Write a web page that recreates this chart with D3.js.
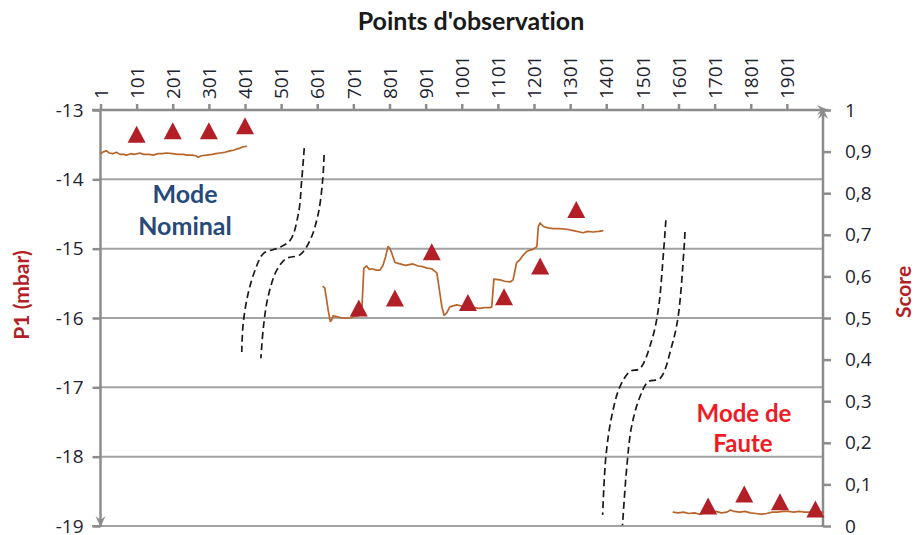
<!DOCTYPE html>
<html>
<head>
<meta charset="utf-8">
<script src="https://cdn.jsdelivr.net/npm/d3@7"></script>
<style>
  html, body { margin: 0; padding: 0; background: #fff; }
  svg { display: block; }
  text { font-variant-ligatures: none; }
</style>
</head>
<body>
<div id="chart"></div>
<script>
// ---------- DATA ----------
const obsTicks = [1, 101, 201, 301, 401, 501, 601, 701, 801, 901, 1001, 1101, 1201, 1301, 1401, 1501, 1601, 1701, 1801, 1901];
const p1Ticks = [-13, -14, -15, -16, -17, -18, -19];
const scoreTicks = [0, 0.1, 0.2, 0.3, 0.4, 0.5, 0.6, 0.7, 0.8, 0.9, 1];

// P1 (mbar) signal, [observation, value]
const p1Nominal = [[1,-13.63],[4,-13.62],[10,-13.6],[18,-13.59],[25,-13.62],[35,-13.63],[45,-13.61],[55,-13.64],[65,-13.64],[74,-13.65],[85,-13.63],[95,-13.64],[110,-13.62],[120,-13.64],[135,-13.64],[147,-13.65],[160,-13.63],[172,-13.63],[184,-13.62],[200,-13.63],[215,-13.64],[230,-13.64],[240,-13.65],[255,-13.65],[265,-13.66],[272,-13.68],[280,-13.66],[295,-13.65],[310,-13.64],[320,-13.63],[332,-13.62],[345,-13.61],[359,-13.59],[370,-13.58],[380,-13.56],[387,-13.55],[395,-13.53],[400,-13.53],[406,-13.52]];
const p1Transition = [[616,-15.54],[622,-15.57],[631,-15.88],[637,-16.05],[641,-16.03],[645,-15.97],[655,-15.98],[670,-16.0],[692,-16.0],[700,-15.98],[715,-15.97],[724,-15.93],[730,-15.28],[738,-15.25],[745,-15.3],[752,-15.29],[765,-15.31],[775,-15.31],[783,-15.24],[790,-15.12],[797,-14.97],[802,-15.0],[807,-15.06],[816,-15.2],[830,-15.22],[845,-15.24],[866,-15.22],[880,-15.25],[894,-15.26],[905,-15.28],[918,-15.29],[925,-15.32],[932,-15.35],[935,-15.45],[946,-15.84],[952,-15.96],[959,-15.93],[968,-15.84],[987,-15.81],[1004,-15.83],[1020,-15.86],[1035,-15.85],[1051,-15.86],[1065,-15.85],[1079,-15.85],[1084,-15.84],[1090,-15.44],[1107,-15.45],[1120,-15.47],[1135,-15.48],[1143,-15.45],[1153,-15.2],[1162,-15.16],[1170,-15.1],[1181,-15.04],[1190,-15.02],[1198,-15.01],[1209,-14.97],[1213,-14.68],[1218,-14.63],[1227,-14.68],[1240,-14.7],[1254,-14.71],[1270,-14.71],[1292,-14.72],[1310,-14.74],[1337,-14.77],[1350,-14.75],[1364,-14.76],[1380,-14.75],[1393,-14.74]];
const p1Fault = [[1585,-18.8],[1600,-18.81],[1615,-18.8],[1630,-18.82],[1645,-18.81],[1660,-18.83],[1675,-18.81],[1690,-18.8],[1705,-18.79],[1720,-18.81],[1735,-18.8],[1745,-18.77],[1755,-18.79],[1770,-18.8],[1785,-18.79],[1800,-18.81],[1815,-18.82],[1830,-18.83],[1845,-18.82],[1860,-18.8],[1875,-18.8],[1890,-18.79],[1905,-18.79],[1920,-18.8],[1935,-18.79],[1950,-18.8],[1965,-18.8],[1980,-18.81],[1995,-18.8],[2003,-18.8]];

// Score, [observation, score]
const scoreNominal = [[101,0.942],[201,0.95],[301,0.95],[401,0.962]];
const scoreTransition = [[716,0.524],[816,0.548],[918,0.659],[1018,0.537],[1118,0.551],[1218,0.625],[1318,0.761]];
const scoreFault = [[1683,0.048],[1783,0.077],[1882,0.058],[1980,0.041]];

// Break marks (dashed S-curves), in [observation, P1] units
const breakA1 = [[565,-13.55],[558,-14.01],[549,-14.49],[526,-14.88],[493,-14.99],[452,-15.07],[429,-15.31],[410,-15.64],[396,-16.08],[392,-16.49]];
const breakA2 = [[620,-13.65],[616,-14.01],[604,-14.49],[581,-14.88],[553,-15.09],[516,-15.14],[489,-15.31],[465,-15.69],[452,-16.13],[445,-16.58]];
const breakB1 = [[1566,-14.59],[1560,-15.02],[1545,-15.88],[1527,-16.32],[1494,-16.73],[1467,-16.77],[1439,-16.99],[1416,-17.42],[1400,-18.0],[1391,-18.84]];
const breakB2 = [[1619,-14.76],[1616,-15.02],[1600,-15.98],[1582,-16.41],[1550,-16.87],[1517,-16.92],[1494,-17.14],[1471,-17.57],[1458,-18.14],[1446,-18.99]];

// ---------- CHART ----------
const W = 914, H = 535;
const svg = d3.select("#chart").append("svg").attr("width", W).attr("height", H);

const x = d3.scaleLinear().domain([1, 2001]).range([100.5, 823]);
const yL = d3.scaleLinear().domain([-19, -13]).range([526, 110]);
const yR = d3.scaleLinear().domain([0, 1]).range([526, 110]);

const axisCol = "#8c8c8c", gridCol = "#a3a3a3", txtCol = "#1e2330";
const lineCol = "#b8652b", markCol = "#b31f26";
const FONT = "Lato, 'Open Sans', sans-serif";
const TFONT = "'Open Sans', Lato, sans-serif";

const defs = svg.append("defs");
defs.append("marker").attr("id", "arr").attr("viewBox", "-12 -6 14 12")
  .attr("refX", 0).attr("refY", 0).attr("markerWidth", 14).attr("markerHeight", 12)
  .attr("markerUnits", "userSpaceOnUse").attr("orient", "auto")
  .append("path").attr("d", "M0,0 L-11,-5 L-7,0 L-11,5 Z").attr("fill", axisCol);

// gridlines
svg.append("g").selectAll("line").data(p1Ticks.filter(d => d !== -13)).join("line")
  .attr("x1", d => d === -19 ? 92 : x.range()[0]).attr("x2", x.range()[1])
  .attr("y1", d => yL(d)).attr("y2", d => yL(d))
  .attr("stroke", gridCol).attr("stroke-width", 2);

// left axis
const gL = svg.append("g").attr("transform", `translate(${x.range()[0]},0)`)
  .call(d3.axisLeft(yL).tickValues(p1Ticks).tickSize(8).tickPadding(9).tickFormat(d => "-" + Math.abs(d)));
gL.select(".domain").remove();
gL.selectAll(".tick line").attr("stroke", axisCol).attr("stroke-width", 2.5);
gL.selectAll(".tick text").attr("font-family", TFONT).attr("font-size", 19).attr("fill", txtCol);
svg.append("line").attr("x1", x.range()[0]).attr("x2", x.range()[0]).attr("y1", 109).attr("y2", 527)
  .attr("stroke", axisCol).attr("stroke-width", 2.5).attr("marker-end", "url(#arr)");

// right axis
const gR = svg.append("g").attr("transform", `translate(${x.range()[1]},0)`)
  .call(d3.axisRight(yR).tickValues(scoreTicks).tickSize(8).tickPadding(14)
    .tickFormat(d => d3.format(".1~f")(d).replace(".", ",")));
gR.select(".domain").remove();
gR.selectAll(".tick line").attr("stroke", axisCol).attr("stroke-width", 2.5);
gR.selectAll(".tick text").attr("font-family", TFONT).attr("font-size", 19).attr("fill", txtCol);
svg.append("line").attr("x1", x.range()[1]).attr("x2", x.range()[1]).attr("y1", 527).attr("y2", 108)
  .attr("stroke", axisCol).attr("stroke-width", 2.5).attr("marker-end", "url(#arr)");

// top axis
const gT = svg.append("g").attr("transform", `translate(0,${yL(-13)})`)
  .call(d3.axisTop(x).tickValues(obsTicks).tickSize(6).tickFormat(d3.format("d")));
gT.select(".domain").remove();
gT.selectAll(".tick line").attr("stroke", axisCol).attr("stroke-width", 2.5);
gT.selectAll(".tick text").attr("font-family", TFONT).attr("font-size", 19).attr("fill", txtCol)
  .attr("transform", "rotate(-90)").attr("text-anchor", "start")
  .attr("x", 11).attr("y", 0).attr("dy", "0.35em");
svg.append("line").attr("x1", 92).attr("x2", 828).attr("y1", yL(-13)).attr("y2", yL(-13))
  .attr("stroke", axisCol).attr("stroke-width", 2.5).attr("marker-end", "url(#arr)");

// break curves
const brk = d3.line().x(d => x(d[0])).y(d => yL(d[1])).curve(d3.curveCatmullRom);
svg.append("g").selectAll("path").data([breakA1, breakA2, breakB1, breakB2]).join("path")
  .attr("d", brk).attr("fill", "none").attr("stroke", "#1a1a1a")
  .attr("stroke-width", 1.7).attr("stroke-dasharray", "7,4");

// P1 lines
const ln = d3.line().x(d => x(d[0])).y(d => yL(d[1]));
svg.append("g").selectAll("path").data([p1Nominal, p1Transition, p1Fault]).join("path")
  .attr("d", ln).attr("fill", "none").attr("stroke", lineCol).attr("stroke-width", 1.7)
  .attr("stroke-linejoin", "round");

// score triangles
const tri = "M0,-8.5 L9,8.5 L-9,8.5 Z";
svg.append("g").selectAll("path").data([...scoreNominal, ...scoreTransition, ...scoreFault]).join("path")
  .attr("d", tri).attr("transform", d => `translate(${x(d[0])},${yR(d[1])})`)
  .attr("fill", markCol);

// titles
svg.append("text").attr("x", 471).attr("y", 30).attr("text-anchor", "middle")
  .attr("font-family", FONT).attr("font-weight", "bold").attr("font-size", 25).attr("fill", "#1a1a1a")
  .text("Points d'observation");
svg.append("text").attr("transform", "translate(29,295) rotate(-90)").attr("text-anchor", "middle")
  .attr("font-family", FONT).attr("font-weight", "bold").attr("font-size", 21).attr("fill", markCol)
  .text("P1 (mbar)");
svg.append("text").attr("transform", "translate(911,292) rotate(-90)").attr("text-anchor", "middle")
  .attr("font-family", FONT).attr("font-weight", "bold").attr("font-size", 21).attr("fill", markCol)
  .text("Score");

// annotations
const ann = svg.append("g").attr("font-family", FONT).attr("font-weight", "bold").attr("text-anchor", "middle");
ann.append("text").attr("x", 185).attr("y", 203).attr("font-size", 25).attr("fill", "#264a7a").text("Mode");
ann.append("text").attr("x", 185).attr("y", 235).attr("font-size", 25).attr("fill", "#264a7a").text("Nominal");
ann.append("text").attr("x", 744).attr("y", 422).attr("font-size", 24).attr("fill", "#ee1c25").text("Mode de");
ann.append("text").attr("x", 743).attr("y", 452).attr("font-size", 24).attr("fill", "#ee1c25").text("Faute");
</script>
</body>
</html>
